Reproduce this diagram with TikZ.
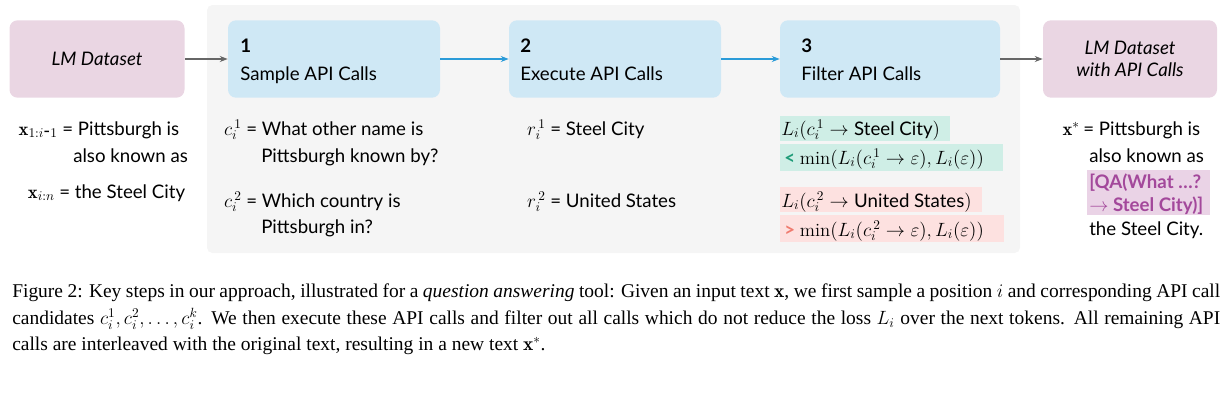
\documentclass[tikz,border=0pt]{standalone}
\usepackage{fontspec}
\setsansfont{Lato}
\newfontfamily\capfont{Liberation Serif}
\usetikzlibrary{arrows.meta}
\definecolor{bgg}{HTML}{F5F5F5}
\definecolor{pinkb}{HTML}{EAD6E3}
\definecolor{blueb}{HTML}{CFE8F5}
\definecolor{greenh}{HTML}{CFEEE6}
\definecolor{redh}{HTML}{FDE1E0}
\definecolor{purh}{HTML}{EAD3E6}
\definecolor{purt}{HTML}{A3489B}
\definecolor{greent}{HTML}{1E9C78}
\definecolor{redt}{HTML}{F07A6E}
\definecolor{arrb}{HTML}{2B9BD8}
\begin{document}
\begin{tikzpicture}[x=0.75pt,y=-0.75pt,
  box/.style={rounded corners=6pt,minimum width=#1*0.75pt,minimum height=58pt,inner sep=0pt},
  txt/.style={font=\sffamily\fontsize{14}{17}\selectfont,inner sep=0pt,anchor=base west},
  garr/.style={-{Stealth[length=6pt]},gray!80!black,line width=1pt},
  barr/.style={-{Stealth[length=6pt]},arrb,line width=1pt}]
\useasboundingbox (0,0) rectangle (1232,414);
\fill[bgg,rounded corners=4pt] (207,5) rectangle (1020,253);
\node[box=175,fill=pinkb] (lm) at (97,59) {};
\node[txt,anchor=center,font=\sffamily\itshape\fontsize{14}{17}\selectfont] (lmt) at (lm) {LM Dataset};
\node[box=212,fill=blueb] (b1) at (334,59) {};
\node[box=212,fill=blueb] (b2) at (615,59) {};
\node[box=220,fill=blueb] (b3) at (890,59) {};
\node[box=174,fill=pinkb] (lm2) at (1130,59) {};
\node[align=center,font=\sffamily\itshape\fontsize{14}{17}\selectfont] (lm2t) at (lm2) {LM Dataset\\with API Calls};
\node[txt] (t1a) at (240,52) {\textbf{1}};
\node[txt] (t1b) at (240,80) {Sample API Calls};
\node[txt] (t2a) at (520,52) {\textbf{2}};
\node[txt] (t2b) at (520,80) {Execute API Calls};
\node[txt] (t3a) at (801,52) {\textbf{3}};
\node[txt] (t3b) at (801,80) {Filter API Calls};
\draw[garr] (lm) -- (b1);
\draw[barr] (b1) -- (b2);
\draw[barr] (b2) -- (b3);
\draw[garr] (b3) -- (lm2);
% left text
\node[txt,anchor=base east] (x1) at (58,135) {$\mathbf{x}_{1:i\mbox{-}1}$};
\node[txt] (x1t) at (62,135) {= Pittsburgh is};
\node[txt] (x1g) at (73,162) {also known as};
\node[txt,anchor=base east] (x2) at (55,198) {$\mathbf{x}_{i:n}$};
\node[txt] (x2t) at (59,198) {= the Steel City};
% c
\node[txt,anchor=base east] (c1) at (242,135) {$c_i^{\,1}$};
\node[txt] (c1t) at (246,135) {= What other name is};
\node[txt] (c1u) at (261,162) {Pittsburgh known by?};
\node[txt,anchor=base east] (c2) at (242,207) {$c_i^{\,2}$};
\node[txt] (c2t) at (246,207) {= Which country is};
\node[txt] (c2u) at (261,233) {Pittsburgh in?};
% r
\node[txt,anchor=base east] (r1) at (546,135) {$r_i^{\,1}$};
\node[txt] (r1t) at (550,135) {= Steel City};
\node[txt,anchor=base east] (r2) at (546,207) {$r_i^{\,2}$};
\node[txt] (r2t) at (550,207) {= United States};
% filter
\fill[greenh] (780,116) rectangle (950,141);
\fill[greenh] (780,144) rectangle (1003,171);
\fill[redh] (780,187) rectangle (982,212);
\fill[redh] (780,215) rectangle (1004,242);
\node[txt] (f1) at (781,135) {$L_i(c_i^{\,1}\rightarrow{}$Steel City$)$};
\node[txt] (f2) at (784,164) {\textcolor{greent}{\textbf{<}} $\min(L_i(c_i^{\,1}\rightarrow\varepsilon),L_i(\varepsilon))$};
\node[txt] (f3) at (781,207) {$L_i(c_i^{\,2}\rightarrow{}$United States$)$};
\node[txt] (f4) at (784,236) {\textcolor{redt}{\textbf{>}} $\min(L_i(c_i^{\,2}\rightarrow\varepsilon),L_i(\varepsilon))$};
% right
\node[txt,anchor=base east] (xs) at (1080,135) {$\mathbf{x}^{*}$};
\node[txt] (xst) at (1083,135) {= Pittsburgh is};
\node[txt] (xs2) at (1089,162) {also known as};
\fill[purh] (1087,170) rectangle (1210,215);
\node[txt,text=purt,font=\sffamily\bfseries\fontsize{14}{17}\selectfont] (xs3) at (1089,188) {[QA(What \dots?};
\node[txt,text=purt,font=\sffamily\bfseries\fontsize{14}{17}\selectfont] (xs4) at (1089,211) {$\rightarrow$ Steel City)]};
\node[txt] (xs5) at (1089,235) {the Steel City.};
% caption
\node[anchor=north west,inner sep=0pt,text width=906pt,align=justify,font=\capfont\fontsize{14.6}{19.8}\selectfont] (cap) at (12,284) {Figure 2: Key steps in our approach, illustrated for a \textit{question answering} tool: Given an input text $\mathbf{x}$, we first sample a position $i$ and corresponding API call candidates $c_i^1, c_i^2, \ldots, c_i^k$. We then execute these API calls and filter out all calls which do not reduce the loss $L_i$ over the next tokens. All remaining API calls are interleaved with the original text, resulting in a new text $\mathbf{x}^{*}$.};
\end{tikzpicture}
\end{document}
